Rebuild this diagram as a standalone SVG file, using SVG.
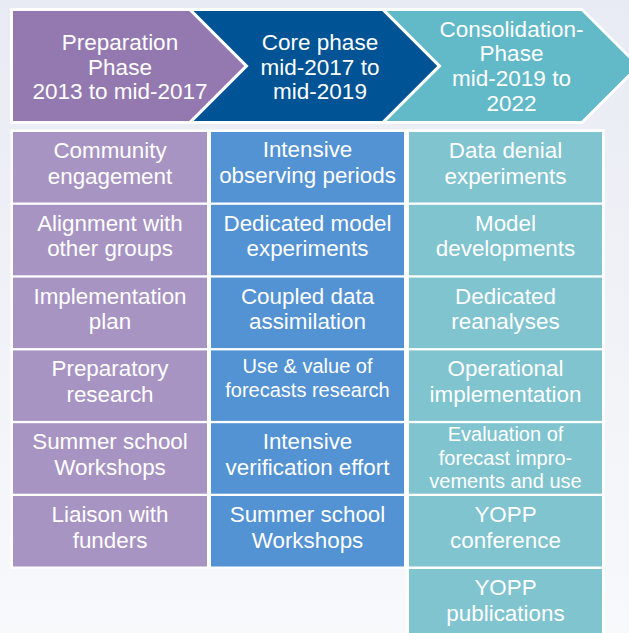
<svg xmlns="http://www.w3.org/2000/svg" width="629" height="633" viewBox="0 0 629 633">
<defs>
<linearGradient id="bg" x1="0" y1="0" x2="0" y2="1">
<stop offset="0" stop-color="#e8ebf3"/>
<stop offset="1" stop-color="#f8f9fb"/>
</linearGradient>
</defs>
<style>
.hd{stroke:#ffffff;stroke-width:3;stroke-linejoin:miter}
.t{font-family:"Liberation Sans",Arial,Helvetica,sans-serif;fill:#ffffff;text-anchor:middle;font-size:22.4px}
.th{font-size:22.5px}
.ts{font-size:20px}
.p{fill:#a794c2}
.b{fill:#5392d3}
.c{fill:#80c4d0}
</style>
<rect x="0" y="0" width="629" height="633" fill="url(#bg)"/>
<g id="phase-preparation">
<path class="hd" fill="#9479b0" d="M11.5,9.5 H190 L246.5,66 L190,122.5 H11.5 Z"/>
<text class="t th" x="120" y="50">Preparation</text>
<text class="t th" x="120" y="74.5">Phase</text>
<text class="t th" x="120" y="99">2013 to mid-2017</text>
</g>
<g id="phase-core">
<path class="hd" fill="#005394" d="M190,9.5 H383 L439.5,66 L383,122.5 H190 L246.5,66 Z"/>
<text class="t th" x="320" y="50">Core phase</text>
<text class="t th" x="320" y="74.5">mid-2017 to</text>
<text class="t th" x="320" y="99">mid-2019</text>
</g>
<g id="phase-consolidation">
<path class="hd" fill="#62bac8" d="M383,9.5 H582 L638.5,66 L582,122.5 H383 L439.5,66 Z"/>
<text class="t th" x="511.5" y="36.5">Consolidation-</text>
<text class="t th" x="511.5" y="61.2">Phase</text>
<text class="t th" x="511.5" y="85.9">mid-2019 to</text>
<text class="t th" x="511.5" y="110.6">2022</text>
</g>
<g id="grid-background">
<rect x="10.5" y="129.5" width="594" height="439" fill="#ffffff"/>
<rect x="406" y="129.5" width="198.5" height="504" fill="#ffffff"/>
</g>
<g id="connectors"/>
<g id="prep-1"><rect class="p" x="13" y="132" width="194" height="70.5"/><text class="t" x="110" y="158">Community</text><text class="t" x="110" y="183.5">engagement</text></g>
<g id="prep-2"><rect class="p" x="13" y="204.8" width="194" height="70.5"/><text class="t" x="110" y="230.8">Alignment with</text><text class="t" x="110" y="256.3">other groups</text></g>
<g id="prep-3"><rect class="p" x="13" y="277.6" width="194" height="70.5"/><text class="t" x="110" y="303.6">Implementation</text><text class="t" x="110" y="329.1">plan</text></g>
<g id="prep-4"><rect class="p" x="13" y="350.4" width="194" height="70.5"/><text class="t" x="110" y="376.4">Preparatory</text><text class="t" x="110" y="401.9">research</text></g>
<g id="prep-5"><rect class="p" x="13" y="423.2" width="194" height="70.5"/><text class="t" x="110" y="449.2">Summer school</text><text class="t" x="110" y="474.7">Workshops</text></g>
<g id="prep-6"><rect class="p" x="13" y="496" width="194" height="70.5"/><text class="t" x="110" y="522">Liaison with</text><text class="t" x="110" y="547.5">funders</text></g>
<g id="core-1"><rect class="b" x="211" y="132" width="193" height="70.5"/><text class="t" x="307.5" y="157">Intensive</text><text class="t" x="307.5" y="182.7">observing periods</text></g>
<g id="core-2"><rect class="b" x="211" y="204.8" width="193" height="70.5"/><text class="t" x="307.5" y="230.8">Dedicated model</text><text class="t" x="307.5" y="256.3">experiments</text></g>
<g id="core-3"><rect class="b" x="211" y="277.6" width="193" height="70.5"/><text class="t" x="307.5" y="303.6">Coupled data</text><text class="t" x="307.5" y="329.1">assimilation</text></g>
<g id="core-4"><rect class="b" x="211" y="350.4" width="193" height="70.5"/><text class="t ts" x="307.5" y="373">Use &amp; value of</text><text class="t ts" x="307.5" y="397">forecasts research</text></g>
<g id="core-5"><rect class="b" x="211" y="423.2" width="193" height="70.5"/><text class="t" x="307.5" y="449.2">Intensive</text><text class="t" x="307.5" y="474.7">verification effort</text></g>
<g id="core-6"><rect class="b" x="211" y="496" width="193" height="70.5"/><text class="t" x="307.5" y="522">Summer school</text><text class="t" x="307.5" y="547.5">Workshops</text></g>
<g id="cons-1"><rect class="c" x="409" y="132" width="193" height="70.5"/><text class="t" x="505.5" y="158">Data denial</text><text class="t" x="505.5" y="183.5">experiments</text></g>
<g id="cons-2"><rect class="c" x="409" y="204.8" width="193" height="70.5"/><text class="t" x="505.5" y="230.8">Model</text><text class="t" x="505.5" y="256.3">developments</text></g>
<g id="cons-3"><rect class="c" x="409" y="277.6" width="193" height="70.5"/><text class="t" x="505.5" y="303.6">Dedicated</text><text class="t" x="505.5" y="329.1">reanalyses</text></g>
<g id="cons-4"><rect class="c" x="409" y="350.4" width="193" height="70.5"/><text class="t" x="505.5" y="376.4">Operational</text><text class="t" x="505.5" y="401.9">implementation</text></g>
<g id="cons-5"><rect class="c" x="409" y="423.2" width="193" height="70.5"/><text class="t ts" x="505.5" y="441">Evaluation of</text><text class="t ts" x="505.5" y="464.5">forecast impro-</text><text class="t ts" x="505.5" y="488">vements and use</text></g>
<g id="cons-6"><rect class="c" x="409" y="496" width="193" height="70.5"/><text class="t" x="505.5" y="522">YOPP</text><text class="t" x="505.5" y="548">conference</text></g>
<g id="cons-7"><rect class="c" x="409" y="569" width="193" height="70"/><text class="t" x="505.5" y="595">YOPP</text><text class="t" x="505.5" y="620.5">publications</text></g>
</svg>
